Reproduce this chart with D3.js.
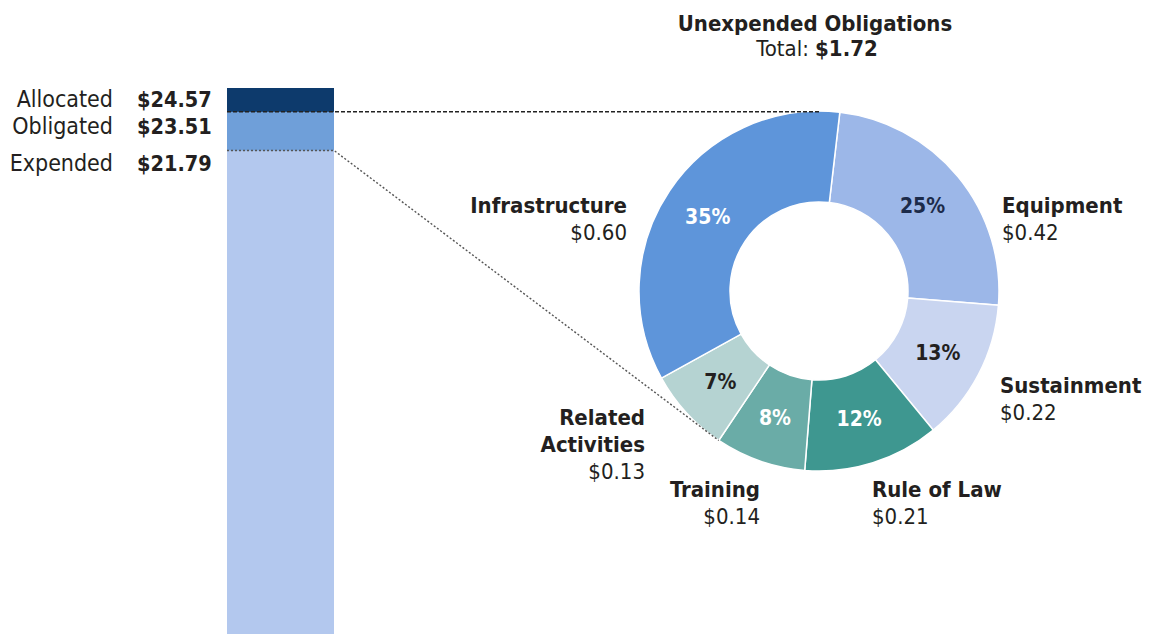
<!DOCTYPE html>
<html>
<head>
<meta charset="utf-8">
<script src="https://cdn.jsdelivr.net/npm/d3@7"></script>
<style>
  body { margin: 0; background: #fff; }
  svg text { font-family: "Liberation Sans Narrow", "Arial Narrow", "DejaVu Sans Condensed", sans-serif; fill: #231f20; }
</style>
</head>
<body>
<div id="chart"></div>
<script>
const WIDTH = 1151;
const HEIGHT = 634;

// stacked bar (billions)
const barLabels = ['Allocated', 'Obligated', 'Expended'];
const barValues = [24.57, 23.51, 21.79];
const barColors = ['#0d3a6c', '#6f9fd9', '#b3c8ee'];

// unexpended obligations breakdown
const sliceNames = ['Equipment', 'Sustainment', 'Rule of Law', 'Training', 'Related Activities', 'Infrastructure'];
const sliceValues = [0.42, 0.22, 0.21, 0.14, 0.13, 0.60];
const slicePct = ['25%', '13%', '12%', '8%', '7%', '35%'];
const sliceColors = ['#9cb7e8', '#c9d5f0', '#3e9790', '#6aaca7', '#b5d3d2', '#5e95da'];
const pctColors = ['#1c2b4a', '#231f20', '#fff', '#fff', '#231f20', '#fff'];
const unexpendedTotal = 1.72;

const fmt = d3.format('$.2f');

const svg = d3.select('#chart').append('svg')
  .attr('width', WIDTH)
  .attr('height', HEIGHT);

// ---- bar ----
const BAR_X = 227, BAR_W = 107;
const yScale = d3.scaleLinear()
  .domain([0, barValues[0]])
  .range([640, 88]);

svg.selectAll('rect.bar')
  .data(barValues)
  .enter()
  .append('rect')
  .attr('class', 'bar')
  .attr('x', BAR_X)
  .attr('y', d => yScale(d))
  .attr('width', BAR_W)
  .attr('height', d => yScale(0) - yScale(d))
  .attr('fill', (d, i) => barColors[i]);

const labelY = [107, 134, 171];
svg.selectAll('text.barlabel')
  .data(barLabels)
  .enter()
  .append('text')
  .attr('x', 113)
  .attr('y', (d, i) => labelY[i])
  .attr('text-anchor', 'end')
  .style('font-size', '23px')
  .text(d => d);

svg.selectAll('text.barvalue')
  .data(barValues)
  .enter()
  .append('text')
  .attr('x', 137)
  .attr('y', (d, i) => labelY[i])
  .style('font-size', '21.5px')
  .style('font-weight', 'bold')
  .text(d => fmt(d));

// ---- donut ----
const CX = 819, CY = 291, R = 180, R_IN = 89;
const START = 0.116;
const pie = d3.pie().sort(null).startAngle(START).endAngle(START + 2 * Math.PI);
const arcs = pie(sliceValues);
const arc = d3.arc().innerRadius(R_IN).outerRadius(R);
const labelArc = d3.arc().innerRadius(134).outerRadius(134);

const donut = svg.append('g').attr('transform', `translate(${CX},${CY})`);

// dashed guide lines from bar to donut
const relEnd = arcs[4].startAngle;
svg.append('path')
  .attr('d', `M${BAR_X},${yScale(barValues[1])}H${CX}`)
  .attr('stroke', '#222').attr('stroke-width', 1.5).attr('stroke-dasharray', '4,2').attr('fill', 'none');
svg.append('path')
  .attr('d', `M${BAR_X},${yScale(barValues[2])}H${BAR_X + BAR_W}L${CX + R * Math.sin(relEnd)},${CY - R * Math.cos(relEnd)}`)
  .attr('stroke', '#555').attr('stroke-width', 1.4).attr('stroke-dasharray', '2,2').attr('fill', 'none');

donut.selectAll('path')
  .data(arcs)
  .enter()
  .append('path')
  .attr('d', arc)
  .attr('fill', (d, i) => sliceColors[i])
  .attr('stroke', '#fff')
  .attr('stroke-width', 1.5);

donut.selectAll('text.pct')
  .data(arcs)
  .enter()
  .append('text')
  .attr('transform', d => `translate(${labelArc.centroid(d)})`)
  .attr('text-anchor', 'middle')
  .attr('dy', '0.35em')
  .style('font-size', '21px')
  .style('font-weight', 'bold')
  .style('fill', (d, i) => pctColors[i])
  .text((d, i) => slicePct[i]);

// category labels: [x, y, anchor] per slice
const catPos = [
  [1002, 213, 'start'],
  [1000, 393, 'start'],
  [872, 497, 'start'],
  [760, 497, 'end'],
  [645, 425, 'end'],
  [627, 213, 'end']
];

sliceNames.forEach((name, i) => {
  const [x, y, anchor] = catPos[i];
  const lines = name === 'Related Activities' ? ['Related', 'Activities'] : [name];
  const t = svg.append('text')
    .attr('x', x)
    .attr('y', y)
    .attr('text-anchor', anchor)
    .style('font-size', '22px');
  lines.forEach((l, j) => {
    t.append('tspan')
      .attr('x', x)
      .attr('dy', j === 0 ? 0 : 27)
      .style('font-weight', 'bold')
      .text(l);
  });
  t.append('tspan')
    .attr('x', x)
    .attr('dy', 27)
    .text(fmt(sliceValues[i]));
});

// title
svg.append('text')
  .attr('x', 815)
  .attr('y', 31)
  .attr('text-anchor', 'middle')
  .style('font-size', '22px')
  .style('font-weight', 'bold')
  .text('Unexpended Obligations');

const total = svg.append('text')
  .attr('x', 817)
  .attr('y', 56)
  .attr('text-anchor', 'middle')
  .style('font-size', '22px');
total.append('tspan').text('Total: ');
total.append('tspan').style('font-weight', 'bold').text(fmt(unexpendedTotal));
</script>
</body>
</html>
